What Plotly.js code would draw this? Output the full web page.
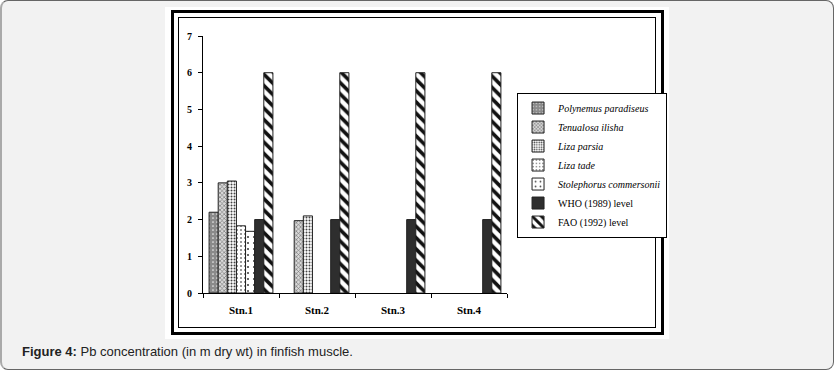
<!DOCTYPE html>
<html>
<head>
<meta charset="utf-8">
<script src="https://cdn.plot.ly/plotly-3.0.1.min.js"></script>
<style>
  html, body { margin:0; padding:0; width:834px; height:371px; overflow:hidden; background:#ffffff; }
  #page { position:absolute; left:0; top:0; width:831px; height:368px; background:#f2f2f2;
          border:1px solid #666; border-left:2px solid #aaa; border-radius:8px; }
  #white { position:absolute; left:165px; top:7px; width:504px; height:332px; background:#ffffff; }
  #thick { position:absolute; left:171px; top:10px; width:487px; height:319px; border:3px solid #000; }
  #thin { position:absolute; left:178px; top:17px; width:476px; height:309px; border:1px solid #000; }
  #chart { position:absolute; left:0; top:0; width:834px; height:371px; }
  #cap { position:absolute; left:22px; top:344px; font-family:"Liberation Sans", Arial, sans-serif;
         font-size:13px; color:#222; white-space:nowrap; }
</style>
</head>
<body>
<div id="page"></div>
<div id="white"></div>
<div id="thick"></div>
<div id="thin"></div>
<div id="chart"></div>
<div id="cap"><b>Figure 4:</b> Pb concentration (in m dry wt) in finfish muscle.</div>
<script>
const stations = ["Stn.1", "Stn.2", "Stn.3", "Stn.4"];
const seriesNames = ["<i>Polynemus paradiseus</i>", "<i>Tenualosa ilisha</i>", "<i>Liza parsia</i>",
                     "<i>Liza tade</i>", "<i>Stolephorus commersonii</i>", "WHO (1989) level", "FAO (1992) level"];
const polynemus = [2.2, null, null, null];
const tenualosa = [3.0, 1.97, null, null];
const lizaParsia = [3.05, 2.1, null, null];
const lizaTade = [1.83, null, null, null];
const stolephorus = [1.68, null, null, null];
const who = [2, 2, 2, 2];
const fao = [6, 6, 6, 6];
const yTicks = [0, 1, 2, 3, 4, 5, 6, 7];

const seriesValues = [polynemus, tenualosa, lizaParsia, lizaTade, stolephorus, who, fao];
const styles = [
  {color:"#8a8a8a", pattern:{shape:".", fgcolor:"#e8e8e8", bgcolor:"#8a8a8a", size:4, solidity:0.15}},
  {color:"#bdbdbd", pattern:{shape:"x", fgcolor:"#777777", bgcolor:"#d8d8d8", size:3, solidity:0.4}},
  {color:"#dddddd", pattern:{shape:".", fgcolor:"#444444", bgcolor:"#ffffff", size:3, solidity:0.35}},
  {color:"#ffffff", pattern:{shape:".", fgcolor:"#777777", bgcolor:"#ffffff", size:4, solidity:0.2}},
  {color:"#ffffff", pattern:{shape:".", fgcolor:"#444444", bgcolor:"#ffffff", size:6, solidity:0.1}},
  {color:"#2e2e2e"},
  {color:"#ffffff", pattern:{shape:"\\", fgcolor:"#111111", bgcolor:"#ffffff", size:8, solidity:0.45}}
];

const traces = seriesValues.map((vals, i) => ({
  type: "bar",
  name: seriesNames[i],
  x: stations,
  y: vals,
  marker: Object.assign({ line: {color:"#222222", width:1} }, styles[i]),
  hoverinfo: "skip"
}));

const serif = "Liberation Serif, Times New Roman, serif";
const layout = {
  width: 834, height: 371,
  margin: {l:203, r:327, t:36, b:78, pad:0},
  paper_bgcolor: "rgba(0,0,0,0)",
  plot_bgcolor: "rgba(0,0,0,0)",
  barmode: "group",
  bargap: 0.16,
  bargroupgap: 0,
  showlegend: true,
  legend: {
    x: 1.033, y: 0.78, xanchor: "left", yanchor: "top",
    bgcolor: "#ffffff", bordercolor: "#000000", borderwidth: 1,
    font: {family: serif, size: 10, color: "#000"},
    itemwidth: 30, tracegroupgap: 0, traceorder: "normal"
  },
  xaxis: {
    type: "category",
    showline: true, linecolor: "#000", linewidth: 1,
    ticks: "outside", tickson: "boundaries", ticklen: 4, tickcolor: "#000",
    showgrid: false, zeroline: false,
    tickfont: {family: serif, size: 11, color: "#000", weight: "bold"},
    ticklabelstandoff: 7
  },
  yaxis: {
    range: [0, 7], tickvals: yTicks, ticktext: yTicks.map(String),
    showline: true, linecolor: "#000", linewidth: 1,
    ticks: "outside", ticklen: 4, tickcolor: "#000",
    showgrid: false, zeroline: false,
    tickfont: {family: serif, size: 10, color: "#000", weight: "bold"},
    ticklabelstandoff: 4
  }
};

Plotly.newPlot("chart", traces, layout, {displayModeBar: false, staticPlot: true});
</script>
</body>
</html>
